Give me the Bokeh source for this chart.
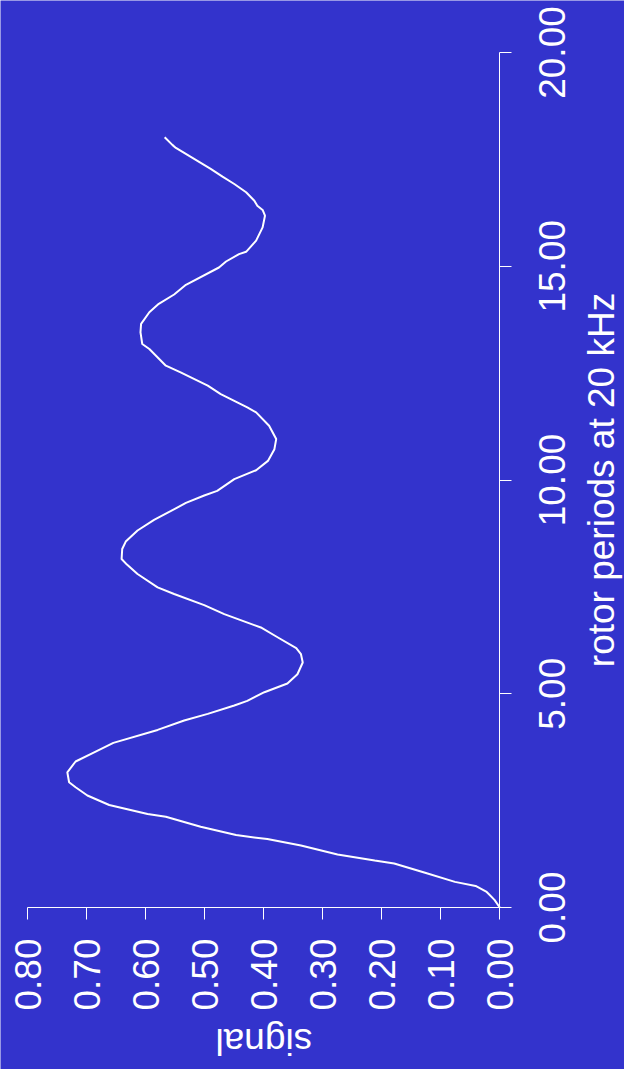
from math import pi

from bokeh.core.properties import value
from bokeh.embed import file_html
from bokeh.models import FixedTicker, NumeralTickFormatter, Range1d
from bokeh.plotting import figure
from bokeh.resources import INLINE

# Signal versus rotor periods (20 kHz spinning)
periods = [
    0.0, 0.178, 0.374, 0.505, 0.599, 0.819, 1.029, 1.099, 1.240, 1.450,
    1.600, 1.694, 1.890, 2.124, 2.185, 2.398, 2.620, 2.812, 2.929, 3.163,
    3.415, 3.607, 3.850, 4.154, 4.374, 4.529, 4.725, 4.833, 5.036, 5.240,
    5.457, 5.731, 5.925, 6.068, 6.316, 6.550, 6.863, 7.074, 7.333, 7.488,
    7.801, 8.021, 8.152, 8.386, 8.559, 8.819, 9.067, 9.270, 9.464, 9.637,
    9.745, 10.019, 10.229, 10.447, 10.721, 10.957, 11.268, 11.581, 11.698, 12.009,
    12.206, 12.517, 12.674, 13.064, 13.181, 13.455, 13.652, 13.925, 14.120, 14.339,
    14.565, 14.971, 15.111, 15.284, 15.338, 15.598, 15.909, 16.182, 16.316, 16.416,
    16.533, 16.730, 16.924, 17.097, 17.277, 17.768, 17.839, 18.019,
]
signal = [
    0.0, 0.009, 0.023, 0.041, 0.076, 0.128, 0.179, 0.212, 0.275, 0.337,
    0.394, 0.447, 0.507, 0.566, 0.597, 0.662, 0.699, 0.719, 0.730, 0.733,
    0.719, 0.691, 0.655, 0.580, 0.535, 0.495, 0.450, 0.428, 0.399, 0.360,
    0.343, 0.334, 0.337, 0.345, 0.376, 0.405, 0.467, 0.501, 0.552, 0.580,
    0.614, 0.632, 0.641, 0.640, 0.634, 0.614, 0.586, 0.558, 0.532, 0.501,
    0.479, 0.450, 0.413, 0.393, 0.382, 0.379, 0.391, 0.413, 0.428, 0.473,
    0.495, 0.541, 0.566, 0.594, 0.606, 0.609, 0.608, 0.594, 0.578, 0.552,
    0.532, 0.476, 0.464, 0.442, 0.430, 0.413, 0.402, 0.398, 0.402, 0.411,
    0.416, 0.430, 0.450, 0.470, 0.490, 0.549, 0.555, 0.568,
]

signal_ticks = [0.0, 0.1, 0.2, 0.3, 0.4, 0.5, 0.6, 0.7, 0.8]
period_ticks = [0, 5, 10, 15, 20]
period_labels = ["0.00", "5.00", "10.00", "15.00", "20.00"]
x_title = "rotor periods at 20 kHz"
y_title = "signal"

BG = "#3333cc"
FG = "#ffffff"
FONT = "Liberation Sans"
SIZE = "37px"

# Page geometry: the plot is turned a quarter turn, signal runs right-to-left
# along the bottom and rotor periods run upward on the right.
W, H = 624, 1069
ORIGIN_X, ORIGIN_Y = 499.3, 907.0      # pixel of (signal 0, period 0)
PX_PER_SIGNAL = 590.0                  # pixels per signal unit (leftward)
PX_PER_PERIOD = 42.75                  # pixels per rotor period (upward)


def sig_at(px):
    return (ORIGIN_X - px) / PX_PER_SIGNAL


def per_at(py):
    return (ORIGIN_Y - py) / PX_PER_PERIOD


p = figure(
    width=W, height=H,
    x_range=Range1d(sig_at(0), sig_at(W)),
    y_range=Range1d(per_at(H), per_at(0)),
    x_axis_location="below", y_axis_location="right",
    min_border=0,
    output_backend="svg", toolbar_location=None,
    background_fill_color=BG, border_fill_color=BG,
)
p.outline_line_color = None
p.grid.visible = False

xax, yax = p.xaxis[0], p.yaxis[0]
xax.fixed_location = 0.0
yax.fixed_location = 0.0
xax.bounds = (min(signal_ticks), max(signal_ticks))
yax.bounds = (min(period_ticks), max(period_ticks))
xax.ticker = FixedTicker(ticks=signal_ticks)
yax.ticker = FixedTicker(ticks=period_ticks)
for ax in (xax, yax):
    ax.axis_line_color = FG
    ax.axis_line_width = 1
    ax.major_tick_line_color = FG
    ax.major_tick_in = 0
    ax.major_tick_out = 12
    ax.minor_tick_line_color = None
    ax.major_label_text_color = FG
    ax.major_label_text_font = FONT
    ax.major_label_text_font_size = SIZE
    ax.formatter = NumeralTickFormatter(format="0.00")

xax.major_label_orientation = pi / 2
xax.major_label_standoff = 19
# rotor-period numbers are set as text below, centred on their ticks
yax.major_label_overrides = {t: "" for t in period_ticks}

p.line(signal, periods, line_color=FG, line_width=2)

text_style = dict(
    text_color=FG, text_font=value(FONT), text_font_size=SIZE,
    text_align="center", text_baseline="alphabetic",
)
p.text(x=[sig_at(551)] * len(period_ticks), y=period_ticks,
       text=period_labels, angle=pi / 2, **text_style)
p.text(x=[sig_at(601)], y=[(min(period_ticks) + max(period_ticks)) / 2],
       text=[x_title], angle=pi / 2, **text_style)
p.text(x=[(min(signal_ticks) + max(signal_ticks)) / 2], y=[per_at(1041)],
       text=[y_title], angle=pi, **text_style)

open("out.html", "w").write(file_html(p, INLINE))
